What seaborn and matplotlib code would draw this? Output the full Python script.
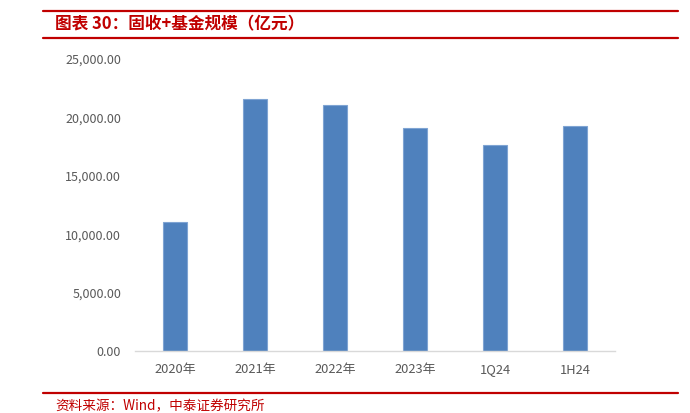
import matplotlib
matplotlib.use("Agg")
import matplotlib.pyplot as plt
from matplotlib.lines import Line2D
from matplotlib.ticker import FuncFormatter
import seaborn as sns
import pandas as pd

categories = ["2020年", "2021年", "2022年", "2023年", "1Q24", "1H24"]
values = [11070, 21580, 21060, 19090, 17640, 19250]
yticks = [0, 5000, 10000, 15000, 20000, 25000]
title = "图表 30：固收+基金规模（亿元）"
source = "资料来源：Wind，中泰证券研究所"

sns.set_theme(style="white")
plt.rcParams['font.family'] = ['Noto Sans CJK SC', 'DejaVu Sans']

W, H = 690, 413
fig = plt.figure(figsize=(W / 100, H / 100), dpi=100)
ax = fig.add_axes([135 / W, (H - 351) / H, (615 - 135) / W, (351 - 59) / H])

df = pd.DataFrame({"cat": categories, "val": values})
sns.barplot(data=df, x="cat", y="val", ax=ax, color="#4F81BD", saturation=1,
            width=0.31, edgecolor="#7FA4D3", linewidth=0.8)

ax.set_ylim(0, 25000)
ax.set_xlim(-0.5, len(categories) - 0.5)
ax.set_yticks(yticks)
ax.yaxis.set_major_formatter(FuncFormatter(lambda v, p: f"{v:,.2f}"))
ax.set_xlabel("")
ax.set_ylabel("")
for s in ["top", "right", "left"]:
    ax.spines[s].set_visible(False)
ax.spines["bottom"].set_color("#D9D9D9")
ax.spines["bottom"].set_linewidth(1.0)
ax.tick_params(axis="y", length=0, pad=10, labelsize=9, labelcolor="#595959")
ax.tick_params(axis="x", length=0, pad=9, labelsize=9.3, labelcolor="#595959")
ax.grid(False)

red = "#C00000"
for y in [11, 38, 393]:
    fig.add_artist(Line2D([43 / W, 678 / W], [1 - y / H, 1 - y / H],
                          transform=fig.transFigure, color=red, linewidth=1.6))

fig.text(55 / W, 1 - 24 / H, title, color=red, fontsize=12, fontweight="bold",
         fontstyle="italic", va="center", ha="left")
fig.text(55 / W, 1 - 406 / H, source, color=red, fontsize=9.8,
         va="center", ha="left")

fig.savefig("out.png", dpi=100)
